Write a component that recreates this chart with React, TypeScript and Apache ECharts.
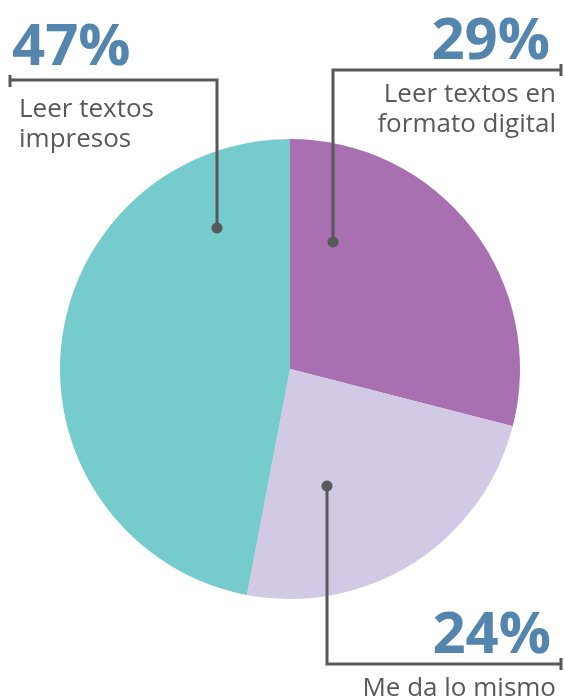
import React, { useEffect, useRef } from "react";
import * as echarts from "echarts";

const categories = ["Leer textos en\nformato digital", "Me da lo mismo", "Leer textos\nimpresos"];
const values = [29, 24, 47];
const colors = ["#A870B0", "#D2C9E4", "#76CBCD"];

export default function App() {
  const ref = useRef<HTMLDivElement>(null);
  useEffect(() => {
    if (!ref.current) return;
    const chart = echarts.init(ref.current, null, { renderer: "svg" });
    const line = "#58595B";
    const pctColor = "#5385AE";
    const labelColor = "#58595B";
    const pctFont = { fontFamily: "Open Sans", fontWeight: "bold" as const, fontSize: 58, fill: pctColor };
    const lblFont = { fontFamily: "Open Sans", fontSize: 26, lineHeight: 30, fill: labelColor };
    const Z = 100;
    chart.setOption({
      animation: false,
      series: [
        {
          type: "pie",
          center: [290, 369],
          radius: 230,
          startAngle: 90,
          clockwise: true,
          label: { show: false },
          labelLine: { show: false },
          silent: true,
          data: categories.map((c, i) => ({ name: c, value: values[i], itemStyle: { color: colors[i] } })),
        },
      ],
      graphic: [
        // 47% leader
        { type: "polyline", z: Z, shape: { points: [[10, 80], [217, 80], [217, 228]] }, style: { stroke: line, lineWidth: 3, fill: null } },
        { type: "line", z: Z, shape: { x1: 10, y1: 75, x2: 10, y2: 87 }, style: { stroke: line, lineWidth: 3 } },
        { type: "circle", z: Z, shape: { cx: 217, cy: 228, r: 5.5 }, style: { fill: line } },
        // 29% leader
        { type: "polyline", z: Z, shape: { points: [[561, 70], [333, 70], [333, 242]] }, style: { stroke: line, lineWidth: 3, fill: null } },
        { type: "line", z: Z, shape: { x1: 561, y1: 64, x2: 561, y2: 76 }, style: { stroke: line, lineWidth: 3 } },
        { type: "circle", z: Z, shape: { cx: 333, cy: 242, r: 5.5 }, style: { fill: line } },
        // 24% leader
        { type: "polyline", z: Z, shape: { points: [[327, 486], [327, 664], [561, 664]] }, style: { stroke: line, lineWidth: 3, fill: null } },
        { type: "line", z: Z, shape: { x1: 561, y1: 658, x2: 561, y2: 670 }, style: { stroke: line, lineWidth: 3 } },
        { type: "circle", z: Z, shape: { cx: 327, cy: 486, r: 5.5 }, style: { fill: line } },
        // texts
        { type: "text", z: Z, x: 12, y: 71, style: { ...pctFont, text: values[2] + "%", textAlign: "left", textVerticalAlign: "bottom" } },
        { type: "text", z: Z, x: 19, y: 92, style: { ...lblFont, text: categories[2], textAlign: "left", textVerticalAlign: "top" } },
        { type: "text", z: Z, x: 550, y: 65, style: { ...pctFont, text: values[0] + "%", textAlign: "right", textVerticalAlign: "bottom" } },
        { type: "text", z: Z, x: 556, y: 77, style: { ...lblFont, text: categories[0], textAlign: "right", textVerticalAlign: "top" } },
        { type: "text", z: Z, x: 551, y: 659, style: { ...pctFont, text: values[1] + "%", textAlign: "right", textVerticalAlign: "bottom" } },
        { type: "text", z: Z, x: 556, y: 671, style: { ...lblFont, text: categories[1], textAlign: "right", textVerticalAlign: "top" } },
      ],
    });
    return () => chart.dispose();
  }, []);
  return <div ref={ref} style={{ position: "fixed", left: 0, top: 0, width: 565, height: 699 }} />;
}
